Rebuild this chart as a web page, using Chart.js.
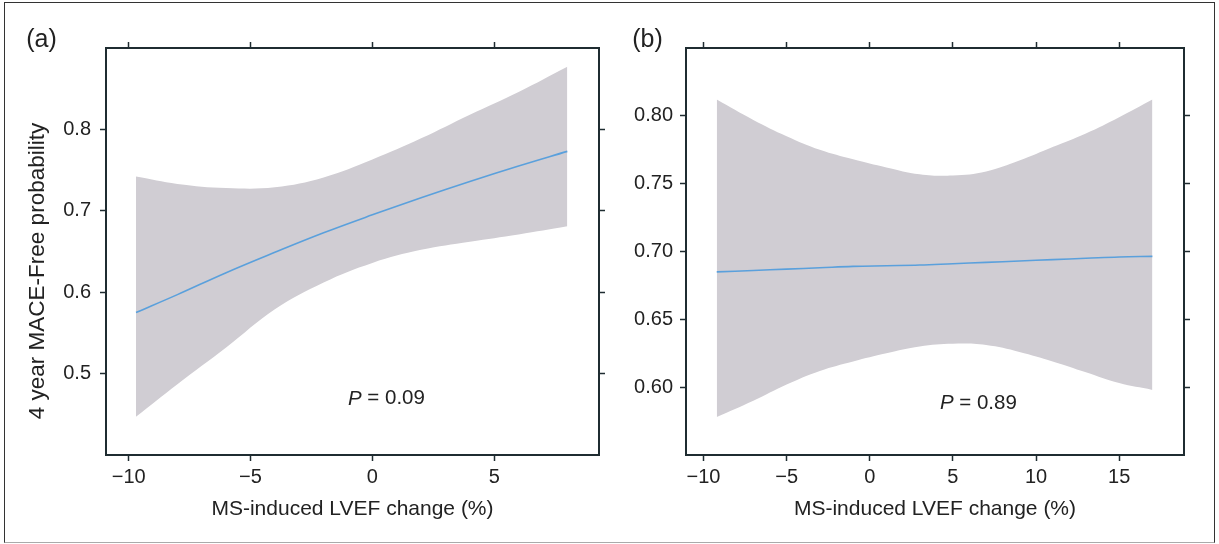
<!DOCTYPE html>
<html>
<head>
<meta charset="utf-8">
<script src="https://cdn.jsdelivr.net/npm/chart.js@4/dist/chart.umd.min.js"></script>
<style>
  body { margin: 0; background: #fff; }
  #wrap { position: relative; width: 1219px; height: 544px; }
  #frame { position: absolute; left: 4px; top: 2px; width: 1211px; height: 541px;
           box-sizing: border-box; border: 1px solid #333; border-bottom-color: #aaa; }
  canvas { position: absolute; top: 0; }
  #chartA { left: 0; }
  #chartB { left: 615px; }
</style>
</head>
<body>
<div id="wrap">
  <div id="frame"></div>
  <canvas id="chartA" width="615" height="544"></canvas>
  <canvas id="chartB" width="604" height="544"></canvas>
</div>
<script>
// panel (a)
let xA     = [-9.7, -8, -6, -4, -2, 0, 2, 4, 6, 8];
let fitA   = [0.575, 0.597, 0.624, 0.649, 0.673, 0.695, 0.716, 0.736, 0.755, 0.773];
let upperA = [0.742, 0.733, 0.728, 0.729, 0.741, 0.763, 0.789, 0.818, 0.846, 0.877];
let lowerA = [0.447, 0.487, 0.532, 0.579, 0.612, 0.636, 0.652, 0.662, 0.671, 0.681];
let xTicksA = [-10, -5, 0, 5];
let yTicksA = [0.5, 0.6, 0.7, 0.8];

// panel (b)
let xB     = [-9.2, -7, -5, -3, -1, 1, 3, 5, 7, 9, 11, 13, 15, 17];
let fitB   = [0.685, 0.686, 0.687, 0.688, 0.689, 0.6895, 0.690, 0.691, 0.692, 0.693, 0.694, 0.695, 0.696, 0.6964];
let upperB = [0.812, 0.797, 0.785, 0.775, 0.768, 0.762, 0.757, 0.756, 0.759, 0.767, 0.777, 0.787, 0.799, 0.812];
let lowerB = [0.578, 0.590, 0.602, 0.612, 0.619, 0.625, 0.630, 0.632, 0.631, 0.626, 0.619, 0.611, 0.603, 0.598];
let xTicksB = [-10, -5, 0, 5, 10, 15];
let yTicksB = [0.60, 0.65, 0.70, 0.75, 0.80];

const axisColor = '#1f2c31';
const textColor = '#222';
const fontFam = '"Liberation Sans", Arial, Helvetica, sans-serif';

function pts(xs, ys) {
  return xs.map(function(x, i) { return {x: x, y: ys[i]}; });
}

function minusFmt(digits) {
  return function(v) {
    let s = Math.abs(v).toFixed(digits);
    return v < 0 ? '\u2212' + s : s;
  };
}

// text that is not tied to a scale: panel letter, rotated y title, P value
const textPlugin = {
  id: 'panelText',
  afterDraw(chart, args, o) {
    const ctx = chart.ctx;
    ctx.save();
    ctx.fillStyle = textColor;
    ctx.textBaseline = 'middle';

    ctx.font = '25px ' + fontFam;
    ctx.textAlign = 'center';
    ctx.fillText(o.label, o.labelX, o.labelY);

    if (o.yTitle) {
      ctx.save();
      ctx.translate(o.yTitleX, o.yTitleY);
      ctx.rotate(-Math.PI / 2);
      ctx.font = '22.5px ' + fontFam;
      ctx.fillText(o.yTitle, 0, 0);
      ctx.restore();
    }

    let px = chart.scales.x.getPixelForValue(o.pX);
    let py = chart.scales.y.getPixelForValue(o.pY);
    ctx.textAlign = 'left';
    ctx.font = 'italic 20.5px ' + fontFam;
    ctx.fillText('P', px, py);
    let w = ctx.measureText('P').width;
    ctx.font = '20.5px ' + fontFam;
    ctx.fillText(' = ' + o.pText, px + w, py);
    ctx.restore();
  }
};

function makeAxis(pos, min, max, ticks, fmt, size, labelPad, showLabels) {
  let horizontal = (pos === 'top' || pos === 'bottom');
  return {
    type: 'linear',
    position: pos,
    min: min,
    max: max,
    afterBuildTicks: function(axis) {
      axis.ticks = ticks.map(function(v) { return {value: v}; });
    },
    afterFit: function(axis) {
      if (horizontal) axis.height = size; else axis.width = size;
    },
    grid: {
      drawOnChartArea: false,
      drawTicks: true,
      tickLength: 6,
      tickWidth: 1.5,
      tickColor: axisColor
    },
    border: { display: true, color: axisColor, width: 2 },
    ticks: {
      display: showLabels,
      color: textColor,
      font: { family: fontFam, size: 20 },
      padding: labelPad,
      maxRotation: 0,
      autoSkip: false,
      callback: fmt
    }
  };
}

function makeChart(id, cfg) {
  return new Chart(document.getElementById(id), {
    type: 'line',
    data: {
      datasets: [
        {
          data: pts(cfg.xs, cfg.fit),
          borderColor: '#5aa0dc',
          borderWidth: 1.6,
          pointRadius: 0,
          tension: 0.4,
          fill: false
        },
        {
          data: pts(cfg.xs, cfg.upper),
          borderWidth: 0,
          borderColor: 'rgba(0,0,0,0)',
          backgroundColor: '#d0cdd3',
          pointRadius: 0,
          tension: 0.4,
          fill: '+1'
        },
        {
          data: pts(cfg.xs, cfg.lower),
          borderWidth: 0,
          borderColor: 'rgba(0,0,0,0)',
          pointRadius: 0,
          tension: 0.4,
          fill: false
        }
      ]
    },
    options: {
      responsive: false,
      animation: false,
      events: [],
      layout: { padding: { left: 0, top: 0, right: 0, bottom: 22 } },
      scales: {
        x: Object.assign(makeAxis('bottom', cfg.xMin, cfg.xMax, cfg.xTicks, minusFmt(0), 67, 4, true), {
          title: {
            display: true,
            text: 'MS-induced LVEF change (%)',
            color: textColor,
            font: { family: fontFam, size: 21 },
            padding: { top: 0, bottom: 0 }
          }
        }),
        x2: makeAxis('top', cfg.xMin, cfg.xMax, cfg.xTicks, minusFmt(0), 48, 5, false),
        y: makeAxis('left', cfg.yMin, cfg.yMax, cfg.yTicks, minusFmt(cfg.yDigits), cfg.left, cfg.yPad, true),
        y2: makeAxis('right', cfg.yMin, cfg.yMax, cfg.yTicks, minusFmt(cfg.yDigits), cfg.right, 5, false)
      },
      plugins: {
        legend: { display: false },
        tooltip: { enabled: false },
        panelText: cfg.text
      }
    },
    plugins: [textPlugin]
  });
}

makeChart('chartA', {
  xs: xA, fit: fitA, upper: upperA, lower: lowerA,
  xMin: -10.93, xMax: 9.3, yMin: 0.40, yMax: 0.90,
  xTicks: xTicksA, yTicks: yTicksA, yDigits: 1,
  left: 106, right: 16, yPad: 9,
  text: {
    label: '(a)', labelX: 41.5, labelY: 40,
    yTitle: '4 year MACE-Free probability', yTitleX: 38, yTitleY: 271,
    pX: -1.0, pY: 0.469, pText: '0.09'
  }
});

makeChart('chartB', {
  xs: xB, fit: fitB, upper: upperB, lower: lowerB,
  xMin: -11.05, xMax: 18.9, yMin: 0.55, yMax: 0.85,
  xTicks: xTicksB, yTicks: yTicksB, yDigits: 2,
  left: 71, right: 35, yPad: 7,
  text: {
    label: '(b)', labelX: 32.5, labelY: 40,
    pX: 4.22, pY: 0.588, pText: '0.89'
  }
});
</script>
</body>
</html>
